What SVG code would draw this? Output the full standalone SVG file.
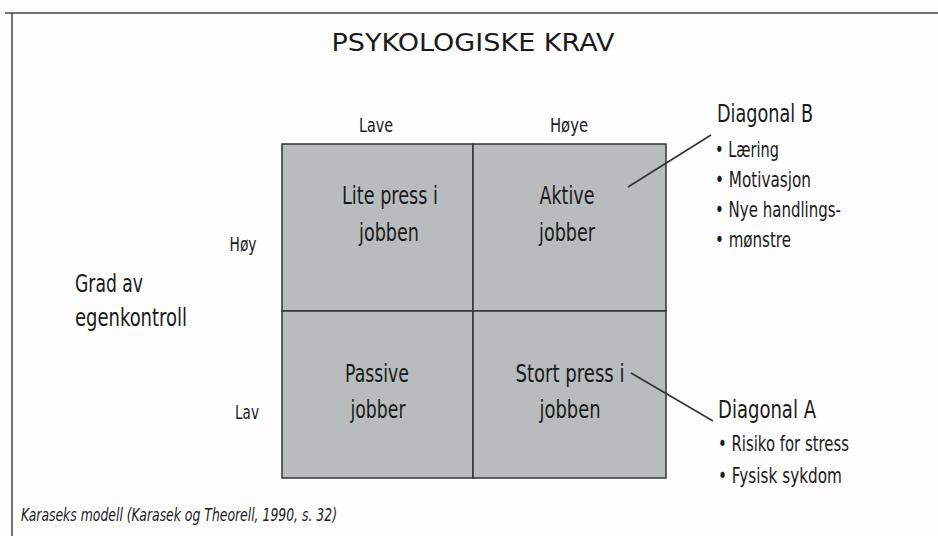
<svg xmlns="http://www.w3.org/2000/svg" width="938" height="536" viewBox="0 0 938 536">
<style>
text{font-family:"DejaVu Sans","Liberation Sans",sans-serif;fill:#1a1a1a}
.cell{font-size:25px;text-anchor:middle}
.ax{font-size:20px;text-anchor:middle}
.big{font-size:25px}
.bul{font-size:21px}
.cell-rect{fill:#b9bcbd;stroke:#333;stroke-width:1.5}
.conn{stroke:#333;stroke-width:1.6;fill:none}
</style>
<rect width="938" height="536" fill="#fdfdfd"/>
<g id="frame" stroke="#444" stroke-width="1.5" fill="none">
<line x1="5" y1="13" x2="938" y2="13"/>
<line x1="12" y1="13" x2="12" y2="536"/>
</g>
<text id="title" x="473" y="51" style="font-size:25px;text-anchor:middle" textLength="283" lengthAdjust="spacingAndGlyphs">PSYKOLOGISKE KRAV</text>
<text x="376" y="132" class="ax" textLength="34" lengthAdjust="spacingAndGlyphs">Lave</text>
<text x="569" y="132" class="ax" textLength="38" lengthAdjust="spacingAndGlyphs">Høye</text>
<text x="243" y="251" class="ax" textLength="27" lengthAdjust="spacingAndGlyphs">Høy</text>
<text x="247" y="419" class="ax" textLength="24" lengthAdjust="spacingAndGlyphs">Lav</text>
<g id="yaxis-label">
<text x="75" y="292" class="big" textLength="68" lengthAdjust="spacingAndGlyphs">Grad av</text>
<text x="75" y="326" class="big" textLength="112" lengthAdjust="spacingAndGlyphs">egenkontroll</text>
</g>
<g id="q-lite">
<rect class="cell-rect" x="282" y="144" width="191" height="167"/>
<text x="390" y="204" class="cell" textLength="96" lengthAdjust="spacingAndGlyphs">Lite press i</text>
<text x="389" y="241" class="cell" textLength="60" lengthAdjust="spacingAndGlyphs">jobben</text>
</g>
<g id="q-aktive">
<rect class="cell-rect" x="473" y="144" width="193" height="167"/>
<text x="567" y="204" class="cell" textLength="55" lengthAdjust="spacingAndGlyphs">Aktive</text>
<text x="567" y="241" class="cell" textLength="56" lengthAdjust="spacingAndGlyphs">jobber</text>
</g>
<g id="q-passive">
<rect class="cell-rect" x="282" y="311" width="191" height="167"/>
<text x="377" y="382" class="cell" textLength="64" lengthAdjust="spacingAndGlyphs">Passive</text>
<text x="378" y="418" class="cell" textLength="55" lengthAdjust="spacingAndGlyphs">jobber</text>
</g>
<g id="q-stort">
<rect class="cell-rect" x="473" y="311" width="193" height="167"/>
<text x="570" y="382" class="cell" textLength="109" lengthAdjust="spacingAndGlyphs">Stort press i</text>
<text x="570" y="418" class="cell" textLength="61" lengthAdjust="spacingAndGlyphs">jobben</text>
</g>
<g id="diag-b">
<text x="717" y="122" class="big" textLength="96" lengthAdjust="spacingAndGlyphs">Diagonal B</text>
<text x="715" y="157" class="bul" textLength="64" lengthAdjust="spacingAndGlyphs">• Læring</text>
<text x="715" y="187" class="bul" textLength="96" lengthAdjust="spacingAndGlyphs">• Motivasjon</text>
<text x="715" y="217" class="bul" textLength="126" lengthAdjust="spacingAndGlyphs">• Nye handlings-</text>
<text x="715" y="247" class="bul" textLength="76" lengthAdjust="spacingAndGlyphs">• mønstre</text>
</g>
<g id="diag-a">
<text x="718" y="418" class="big" textLength="98" lengthAdjust="spacingAndGlyphs">Diagonal A</text>
<text x="718" y="451" class="bul" textLength="131" lengthAdjust="spacingAndGlyphs">• Risiko for stress</text>
<text x="718" y="483" class="bul" textLength="124" lengthAdjust="spacingAndGlyphs">• Fysisk sykdom</text>
</g>
<g id="connectors">
<line class="conn" x1="628" y1="187" x2="711" y2="135"/>
<line class="conn" x1="631" y1="373" x2="713" y2="421"/>
</g>
<text id="caption" x="21" y="521" style="font-size:17px;font-style:italic" textLength="316" lengthAdjust="spacingAndGlyphs">Karaseks modell (Karasek og Theorell, 1990, s. 32)</text>
</svg>
